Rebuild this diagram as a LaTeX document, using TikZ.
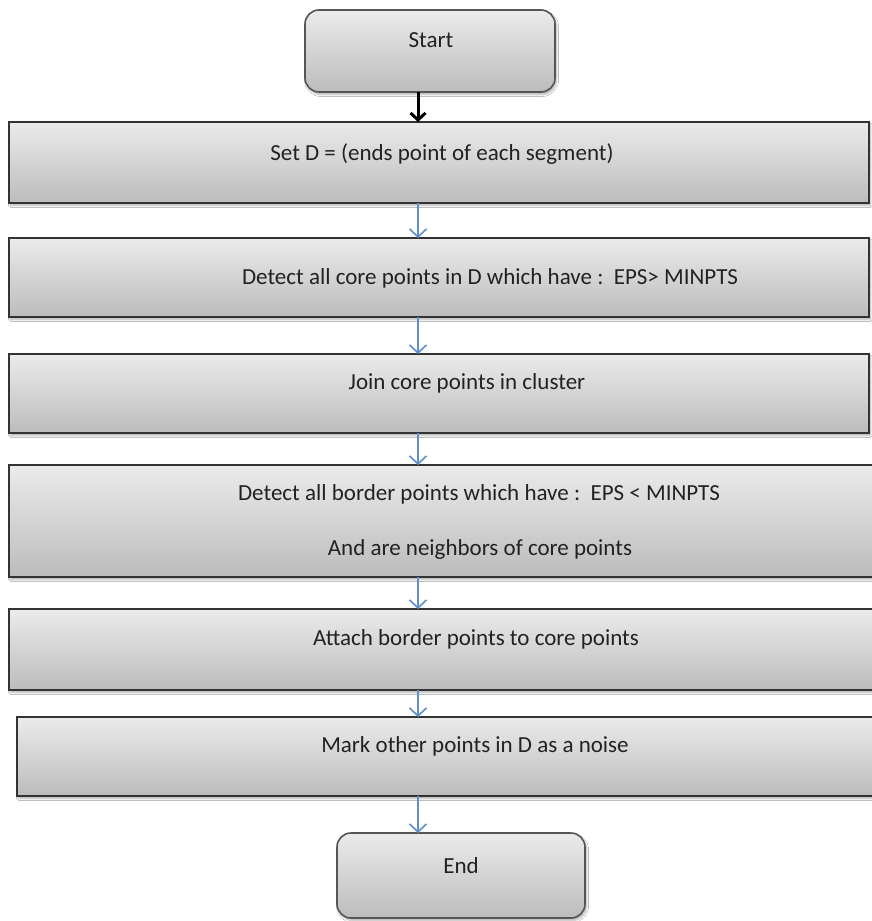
\documentclass[tikz,border=0pt]{standalone}
\usepackage{fontspec}
\setmainfont{Carlito}
\usetikzlibrary{arrows.meta,shadows.blur}
\definecolor{boxtop}{HTML}{EBEBEB}
\definecolor{boxbot}{HTML}{BCBCBC}
\definecolor{edge}{HTML}{333333}
\definecolor{termedge}{HTML}{555555}
\definecolor{flow}{HTML}{5E8FCB}
\definecolor{ink}{HTML}{222222}
\begin{document}
\begin{tikzpicture}[x=1pt,y=-1pt,
  stepbox/.style={draw=edge, line width=1.6pt, top color=boxtop, bottom color=boxbot,
    inner sep=0pt, outer sep=0pt,
    blur shadow={shadow xshift=1.5pt, shadow yshift=-2.5pt, shadow opacity=30, shadow blur steps=6}},
  termbox/.style={stepbox, draw=termedge, rounded corners=14pt},
  txt/.style={anchor=base, inner sep=0pt, text=ink, font=\fontsize{23}{28}\selectfont},
  flowarrow/.style={draw=flow, line width=1.6pt, -{Straight Barb[length=8pt,width=17pt]}},
  firstarrow/.style={draw=black, line width=3pt, -{Straight Barb[length=7pt,width=15pt]}}]
  \useasboundingbox (0,0) rectangle (872,921);
  \fill[white] (0,0) rectangle (872,921);

  % boxes
  \node[termbox, minimum width=250pt, minimum height=82pt] (start) at (430,51) {};
  \node[stepbox, minimum width=860pt, minimum height=81pt] (setd) at (439,162.5) {};
  \node[stepbox, minimum width=860pt, minimum height=79pt] (core) at (439,277.5) {};
  \node[stepbox, minimum width=860pt, minimum height=79pt] (join) at (439,393.5) {};
  \node[stepbox, minimum width=871pt, minimum height=112pt] (border) at (444.5,521) {};
  \node[stepbox, minimum width=871pt, minimum height=81pt] (attach) at (444.5,649.5) {};
  \node[stepbox, minimum width=863pt, minimum height=79pt] (noise) at (448.5,756.5) {};
  \node[termbox, minimum width=248pt, minimum height=85pt] (end) at (461,875.5) {};

  % labels
  \node[txt] (tstart) at (431,47) {Start};
  \node[txt] (tsetd) at (442,160) {Set D = (ends point of each segment)};
  \node[txt] (tcore) at (490,284) {Detect all core points in D which have :\ \ EPS> MINPTS};
  \node[txt] (tjoin) at (467,389) {Join core points in cluster};
  \node[txt] (tborder) at (479,500) {Detect all border points which have :\ \ EPS < MINPTS};
  \node[txt] (tneigh) at (480,555) {And are neighbors of core points};
  \node[txt] (tattach) at (476,645) {Attach border points to core points};
  \node[txt] (tnoise) at (475,752) {Mark other points in D as a noise};
  \node[txt] (tend) at (461,873) {End};

  % connectors
  \coordinate (spine) at (418,0);
  \draw[firstarrow] (start.south -| spine) -- (setd.north -| spine);
  \draw[flowarrow] (setd.south -| spine) -- (core.north -| spine);
  \draw[flowarrow] (core.south -| spine) -- (join.north -| spine);
  \draw[flowarrow] (join.south -| spine) -- (border.north -| spine);
  \draw[flowarrow] (border.south -| spine) -- (attach.north -| spine);
  \draw[flowarrow] (attach.south -| spine) -- (noise.north -| spine);
  \draw[flowarrow] (noise.south -| spine) -- (end.north -| spine);
\end{tikzpicture}
\end{document}
